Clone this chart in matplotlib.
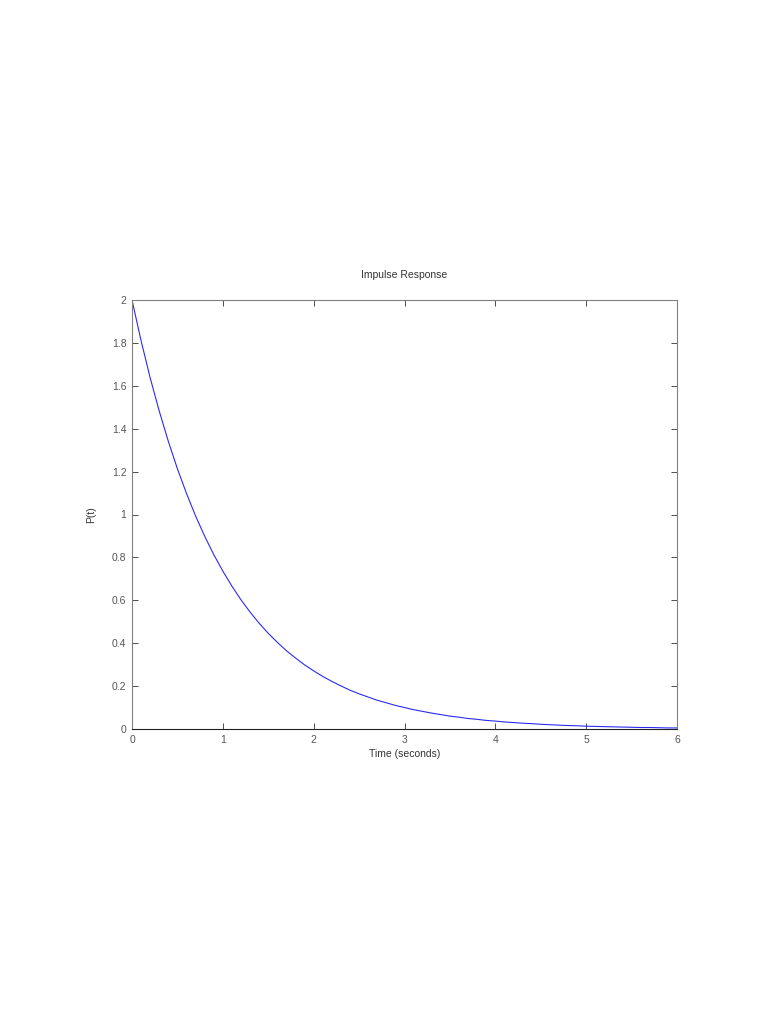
import matplotlib
matplotlib.use("Agg")
import matplotlib.pyplot as plt

# values, every 0.1 s
time_s = [0.0, 0.1, 0.2, 0.3, 0.4, 0.5, 0.6, 0.7, 0.8, 0.9,
          1.0, 1.1, 1.2, 1.3, 1.4, 1.5, 1.6, 1.7, 1.8, 1.9,
          2.0, 2.1, 2.2, 2.3, 2.4, 2.5, 2.6, 2.7, 2.8, 2.9,
          3.0, 3.1, 3.2, 3.3, 3.4, 3.5, 3.6, 3.7, 3.8, 3.9,
          4.0, 4.1, 4.2, 4.3, 4.4, 4.5, 4.6, 4.7, 4.8, 4.9,
          5.0, 5.1, 5.2, 5.3, 5.4, 5.5, 5.6, 5.7, 5.8, 5.9, 6.0]
p_t = [2.000, 1.810, 1.637, 1.482, 1.341, 1.213, 1.098, 0.993, 0.899, 0.813,
       0.736, 0.666, 0.602, 0.545, 0.493, 0.446, 0.404, 0.365, 0.331, 0.299,
       0.271, 0.245, 0.222, 0.201, 0.181, 0.164, 0.149, 0.134, 0.122, 0.110,
       0.100, 0.090, 0.082, 0.074, 0.067, 0.060, 0.055, 0.049, 0.045, 0.040,
       0.037, 0.033, 0.030, 0.027, 0.025, 0.022, 0.020, 0.018, 0.016, 0.015,
       0.013, 0.012, 0.011, 0.010, 0.009, 0.008, 0.007, 0.007, 0.006, 0.005, 0.005]
x_ticks = [0, 1, 2, 3, 4, 5, 6]
y_ticks = [0, 0.2, 0.4, 0.6, 0.8, 1, 1.2, 1.4, 1.6, 1.8, 2]
y_labels = ["0", "0.2", "0.4", "0.6", "0.8", "1", "1.2", "1.4", "1.6", "1.8", "2"]

plt.rcParams["font.family"] = ["Liberation Sans", "DejaVu Sans"]
text_col = "#555555"

fig = plt.figure(figsize=(7.68, 10.24), dpi=100)
ax = fig.add_axes([132 / 768, 1 - 729 / 1024, 545 / 768, 429 / 1024])
ax.plot(time_s, p_t, color="#2b2bf0", linewidth=0.8)

ax.set_xlim(0, 6)
ax.set_ylim(0, 2)
ax.set_xticks(x_ticks)
ax.set_yticks(y_ticks, labels=y_labels)
ax.tick_params(direction="in", top=True, right=True, length=4, width=0.6,
               labelsize=7.5, labelcolor=text_col, color="#333333", pad=4)
for side in ["left", "top", "right"]:
    ax.spines[side].set_color("#808080")
    ax.spines[side].set_linewidth(0.8)
ax.spines["bottom"].set_color("#222222")
ax.spines["bottom"].set_linewidth(0.8)

ax.set_title("Impulse Response", fontsize=7.5, color="#333333", pad=16)
ax.set_xlabel("Time (seconds)", fontsize=7.5, color="#333333", labelpad=3)
ax.set_ylabel("P(t)", fontsize=7.5, color="#333333", labelpad=11)

fig.savefig("out.png", dpi=100)
